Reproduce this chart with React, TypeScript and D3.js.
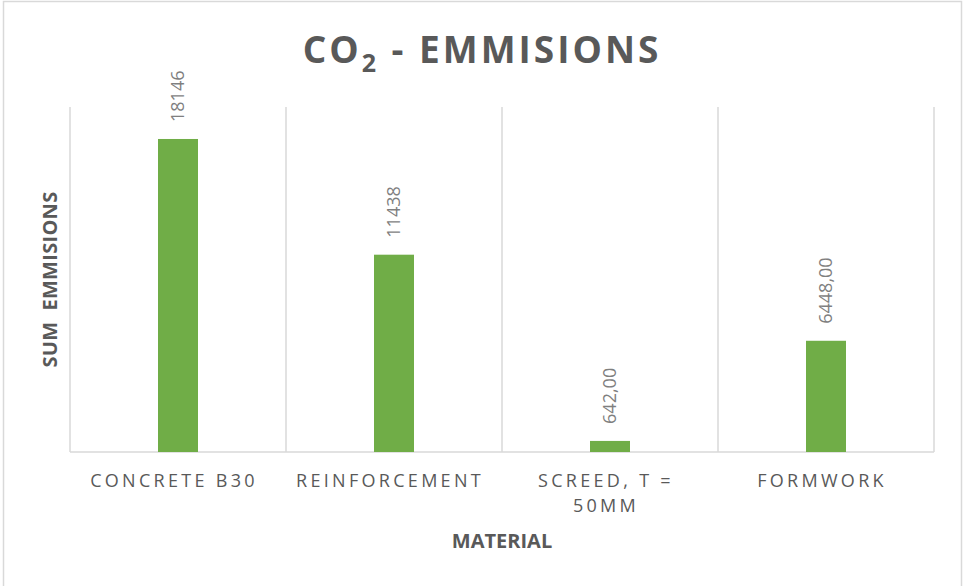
import React from 'react';
import * as d3 from 'd3';

// chart data
const categories = ['Concrete B30', 'Reinforcement', 'Screed, t = 50mm', 'Formwork'];
const categoryLines = [['CONCRETE B30'], ['REINFORCEMENT'], ['SCREED, T =', '50MM'], ['FORMWORK']];
const emissions = [18146, 11438, 642, 6448];
const valueLabels = ['18146', '11438', '642,00', '6448,00'];
const yDomain = [0, 20000];

const W = 963;
const H = 586;
const plot = { left: 70, right: 934, top: 107, bottom: 452 };

const FONT = "'Open Sans', 'DejaVu Sans', sans-serif";
const GREEN = '#70ad47';
const GRID = '#d9d9d9';
const TEXT = '#595959';

const App = () => {
  const x = d3
    .scaleBand<string>()
    .domain(categories)
    .range([plot.left, plot.right])
    .paddingInner(0)
    .paddingOuter(0);

  const y = d3.scaleLinear().domain(yDomain).range([plot.bottom, plot.top]);

  const barW = 40;
  const bounds = [...categories.map((c) => x(c) as number), plot.right];

  return (
    <svg
      width={W}
      height={H}
      style={{ position: 'absolute', left: 0, top: 0, background: '#fff' }}
      fontFamily={FONT}
    >
      <rect x={3.5} y={1.5} width={958} height={H + 10} fill="#fff" stroke={GRID} strokeWidth={1.5} />

      {/* title */}
      <text x={482} y={63} textAnchor="middle" fontSize={37} fontWeight={700} fill={TEXT} letterSpacing={3}>
        CO<tspan fontSize={25} dy={9}>2</tspan>
        <tspan dy={-9}> - EMMISIONS</tspan>
      </text>

      {/* category separators */}
      {bounds.map((b, i) => (
        <line key={i} x1={b} x2={b} y1={plot.top} y2={plot.bottom} stroke={GRID} strokeWidth={1.5} />
      ))}
      <line x1={plot.left} x2={plot.right} y1={plot.bottom} y2={plot.bottom} stroke={GRID} strokeWidth={1.5} />

      {/* bars */}
      {categories.map((c, i) => {
        const cx = (x(c) as number) + x.bandwidth() / 2;
        return (
          <rect
            key={c}
            x={cx - barW / 2}
            y={y(emissions[i])}
            width={barW}
            height={plot.bottom - y(emissions[i])}
            fill={GREEN}
          />
        );
      })}

      {/* value labels */}
      {categories.map((c, i) => {
        const cx = (x(c) as number) + x.bandwidth() / 2;
        const ly = y(emissions[i]) - 17;
        return (
          <text
            key={c}
            transform={`translate(${cx},${ly}) rotate(-90)`}
            dy="0.35em"
            fontSize={18}
            fill="#7f7f7f"
          >
            {valueLabels[i]}
          </text>
        );
      })}

      {/* category labels */}
      {categories.map((c, i) => {
        const cx = (x(c) as number) + x.bandwidth() / 2;
        return (
          <text key={c} textAnchor="middle" fontSize={18} fill={TEXT} letterSpacing={3.3}>
            {categoryLines[i].map((ln, j) => (
              <tspan key={j} x={cx - 4} y={487 + j * 25}>
                {ln}
              </tspan>
            ))}
          </text>
        );
      })}

      {/* axis titles */}
      <text x={(plot.left + plot.right) / 2} y={548} textAnchor="middle" fontSize={20} fontWeight={700} fill={TEXT}>
        MATERIAL
      </text>
      <text
        transform={`translate(57,${(plot.top + plot.bottom) / 2}) rotate(-90)`}
        textAnchor="middle"
        fontSize={20}
        fontWeight={700}
        fill={TEXT}
        letterSpacing={0.3}
      >
        {'SUM\u00a0 EMMISIONS'}
      </text>
    </svg>
  );
};

export default App;
